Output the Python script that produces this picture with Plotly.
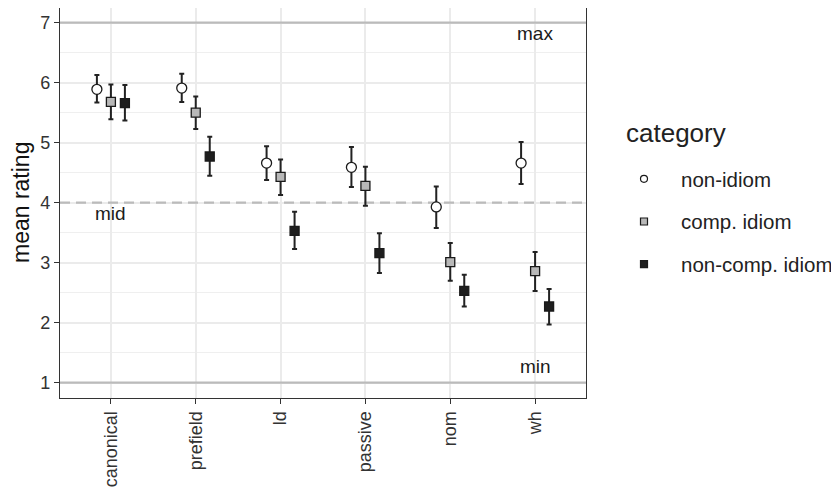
import plotly.graph_objects as go

conditions = ["canonical", "prefield", "ld", "passive", "nom", "wh"]
categories = ["non-idiom", "comp. idiom", "non-comp. idiom"]

mean_non_idiom = [5.89, 5.91, 4.66, 4.59, 3.93, 4.66]
upper_non_idiom = [6.13, 6.15, 4.94, 4.93, 4.27, 5.01]
lower_non_idiom = [5.67, 5.68, 4.38, 4.26, 3.58, 4.31]

mean_comp = [5.68, 5.50, 4.43, 4.28, 3.01, 2.86]
upper_comp = [5.97, 5.77, 4.72, 4.60, 3.33, 3.18]
lower_comp = [5.39, 5.23, 4.13, 3.95, 2.70, 2.53]

mean_noncomp = [5.66, 4.77, 3.53, 3.16, 2.53, 2.27]
upper_noncomp = [5.96, 5.10, 3.85, 3.49, 2.80, 2.56]
lower_noncomp = [5.37, 4.45, 3.23, 2.83, 2.27, 1.97]

ref_values = [7, 4, 1]
ref_labels = ["max", "mid", "min"]

series = [
    (mean_non_idiom, upper_non_idiom, lower_non_idiom, "circle", "white"),
    (mean_comp, upper_comp, lower_comp, "square", "#B8B8B8"),
    (mean_noncomp, upper_noncomp, lower_noncomp, "square", "#1E1E1E"),
]
offsets = [-0.165, 0.0, 0.165]

fig = go.Figure()

# reference lines as traces (drawn above grid, below points)
for v in ref_values:
    fig.add_trace(go.Scatter(
        x=[-0.6, 5.6], y=[v, v], mode="lines", showlegend=False, hoverinfo="skip",
        line=dict(color="#BBBBBB", width=2.2, dash="10px,6px" if v == 4 else "solid"),
    ))

for i, (name, (m, up, lo, sym, fill)) in enumerate(zip(categories, series)):
    xs = [k + offsets[i] for k in range(len(conditions))]
    fig.add_trace(go.Scatter(
        x=xs, y=m, mode="markers", name=name, showlegend=False,
        marker=dict(symbol=sym, size=10 if sym == "circle" else 9, color=fill,
                    line=dict(color="#1a1a1a", width=1.3)),
        error_y=dict(type="data", symmetric=False,
                     array=[u - v for u, v in zip(up, m)],
                     arrayminus=[v - l for v, l in zip(m, lo)],
                     color="#222222", thickness=2, width=2.5),
    ))

# legend entries with small keys
for name, (_, _, _, sym, fill) in zip(categories, series):
    fig.add_trace(go.Scatter(
        x=[None], y=[None], mode="markers", name=name, legendgroup=name,
        marker=dict(symbol=sym, size=7, color=fill,
                    line=dict(color="#1a1a1a", width=1.2)),
    ))

fig.add_annotation(x=5, y=ref_values[0], text=ref_labels[0], showarrow=False,
                   yanchor="top", yshift=2, font=dict(size=19, color="#1a1a1a"))
fig.add_annotation(x=0, y=ref_values[1], text=ref_labels[1], showarrow=False,
                   yanchor="top", yshift=2, font=dict(size=19, color="#1a1a1a"))
fig.add_annotation(x=5, y=ref_values[2], text=ref_labels[2], showarrow=False,
                   yanchor="bottom", yshift=4, font=dict(size=19, color="#1a1a1a"))

# y-axis title
fig.add_annotation(xref="paper", yref="paper", x=(21 - 60) / 526, y=0.5, text="mean rating",
                   textangle=-90, showarrow=False, xanchor="center", yanchor="middle",
                   font=dict(size=23, color="#111"))

# legend title
fig.add_annotation(xref="paper", yref="paper", x=(624 - 60) / 526, y=(398 - 133) / 390,
                   text="category", showarrow=False, xanchor="left", yanchor="middle",
                   font=dict(size=26, color="#222"))

fig.update_layout(
    width=847, height=501,
    margin=dict(l=52, r=269, t=0, b=111, autoexpand=False),
    paper_bgcolor="white", plot_bgcolor="white",
    font=dict(family="Liberation Sans, Arial, sans-serif", color="#333333"),
    legend=dict(
        font=dict(size=20.5, color="#222"),
        x=(607 - 60) / 526, xanchor="left", y=(398 - 159) / 390, yanchor="top",
        tracegroupgap=13, itemwidth=64,
    ),
    showlegend=True,
)

fig.update_xaxes(
    range=[-0.6, 5.6], tickmode="array", tickvals=list(range(len(conditions))),
    ticktext=conditions, tickangle=-90, tickfont=dict(size=18, color="#333"),
    showgrid=True, gridcolor="#EBEBEB", gridwidth=2, automargin=False,
    showline=True, linecolor="#333333", linewidth=1.2, mirror=True,
    ticks="outside", ticklen=5, tickcolor="#333333", tickwidth=1.2, zeroline=False,
)
fig.update_yaxes(
    range=[0.745, 7.245], tickmode="linear", tick0=1, dtick=1,
    tickfont=dict(size=18, color="#333"), automargin=False,
    showgrid=True, gridcolor="#EBEBEB", gridwidth=2,
    minor=dict(dtick=0.5, tick0=0.5, showgrid=True, gridcolor="#EFEFEF", gridwidth=1),
    showline=True, linecolor="#333333", linewidth=1.2, mirror=True,
    ticks="outside", ticklen=5, tickcolor="#333333", tickwidth=1.2, zeroline=False,
)

fig.write_html("out.html")
